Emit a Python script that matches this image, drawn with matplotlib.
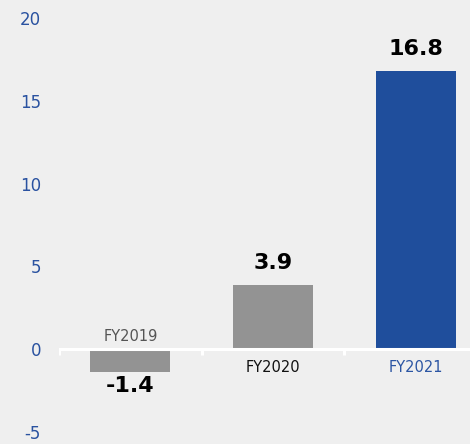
import matplotlib
matplotlib.use("Agg")
import matplotlib.pyplot as plt

categories = ["FY2019", "FY2020", "FY2021"]
values = [-1.4, 3.9, 16.8]
value_labels = ["-1.4", "3.9", "16.8"]
bar_colors = ["#939393", "#939393", "#1f4e9c"]
cat_colors = ["#555555", "#111111", "#2b55a3"]
yticks = [-5, 0, 5, 10, 15, 20]

bg = "#efefef"
fig = plt.figure(figsize=(4.70, 4.44), dpi=100, facecolor=bg)
ax = fig.add_axes([59/470, 1 - 432/444, 411/470, 414/444], facecolor=bg)

x = list(range(len(categories)))
ax.bar(x, values, width=0.56, color=bar_colors, zorder=2)

ax.set_xlim(-0.5, 411/142.7 - 0.5)
ax.set_ylim(-5, 20)

for s in ax.spines.values():
    s.set_visible(False)

# zero axis line with tick marks
ax.axhline(0, color="white", lw=2.2, zorder=3)
for b in [-0.5, 0.5, 1.5]:
    ax.plot([b, b], [0, -0.35], color="white", lw=2.2, zorder=3, solid_capstyle="butt")

ax.set_xticks([])
ax.set_yticks(yticks)
ax.set_yticklabels([str(t) for t in yticks], color="#2a52a0", fontsize=12)
ax.tick_params(axis="y", length=0, pad=13)

for i, (v, lab) in enumerate(zip(values, value_labels)):
    if v >= 0:
        ax.annotate(lab, (i, v), xytext=(0, 8.5), textcoords="offset points",
                    ha="center", va="bottom", fontsize=16, fontweight="bold", color="black")
    else:
        ax.annotate(lab, (i, v), xytext=(0, -2.5), textcoords="offset points",
                    ha="center", va="top", fontsize=16, fontweight="bold", color="black")

for i, (c, col, v) in enumerate(zip(categories, cat_colors, values)):
    if v < 0:
        ax.annotate(c, (i, 0), xytext=(0, 3.5), textcoords="offset points",
                    ha="center", va="bottom", fontsize=10.5, color=col)
    else:
        ax.annotate(c, (i, 0), xytext=(0, -8), textcoords="offset points",
                    ha="center", va="top", fontsize=10.5, color=col)

fig.savefig("out.png", dpi=100, facecolor=bg)
